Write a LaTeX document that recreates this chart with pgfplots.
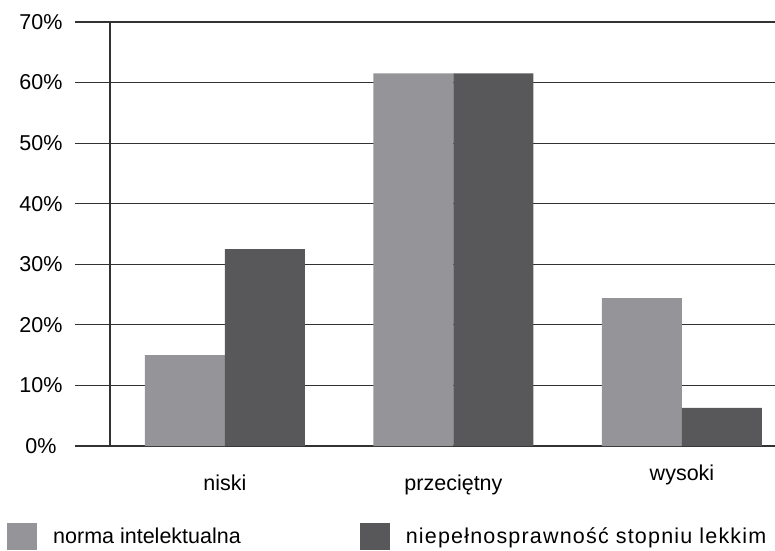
\documentclass[border=0pt]{standalone}
\usepackage{fontspec}
\setmainfont{Liberation Sans}
\usepackage{pgfplots}
\pgfplotsset{compat=1.18}

\definecolor{lightbar}{RGB}{149,149,153}
\definecolor{darkbar}{RGB}{88,88,90}
\definecolor{gridc}{RGB}{50,50,50}

\newcommand{\chartfont}{\fontsize{21.5bp}{25bp}\selectfont}

\begin{document}
\begin{tikzpicture}
\begin{axis}[
    scale only axis,
    width=665bp, height=424bp,
    ybar=0pt,
    bar width=80bp,
    xmin=-0.503, xmax=2.407,
    ymin=0, ymax=70,
    xtick={0,1,2},
    xticklabels={niski, przeciętny, \raisebox{10bp}{wysoki}},
    ytick={0,10,...,70},
    yticklabel={\pgfmathprintnumber{\tick}\%},
    /pgf/number format/assume math mode=true,
    axis lines=left,
    axis line style={-, gridc, line width=1.2bp},
    ymajorgrids,
    grid style={gridc, line width=1.2bp},
    tick align=outside,
    major tick length=35bp,
    ytick style={gridc, line width=1.2bp},
    xtick style={draw=none},
    tick label style={font=\chartfont},
    yticklabel style={font=\chartfont, inner sep=0pt, anchor=center, xshift=-34bp},
    xticklabel style={inner sep=0pt, anchor=base, yshift=-9bp},
    legend style={
        at={(-0.1549,-0.2134)}, anchor=west,
        draw=none, fill=none, inner sep=0pt,
        font=\chartfont,
        legend columns=2,
        nodes={inner sep=0pt},
        /tikz/every odd column/.append style={column sep=16bp},
        /tikz/every even column/.append style={column sep=119bp},
    },
    legend image code/.code={\fill[#1] (0bp,-13.5bp) rectangle (30bp,13.5bp);},
]
\addplot[fill=lightbar, draw=none] coordinates {(0,15.0) (1,61.5) (2,24.4)};
\addplot[fill=darkbar, draw=none] coordinates {(0,32.5) (1,61.5) (2,6.3)};
\legend{norma intelektualna, {\addfontfeatures{LetterSpace=5.5}niepełnosprawność stopniu lekkim}}
\end{axis}
\pgfresetboundingbox
\path (-110bp,-105bp) rectangle (665bp,446bp);
\end{tikzpicture}
\end{document}
